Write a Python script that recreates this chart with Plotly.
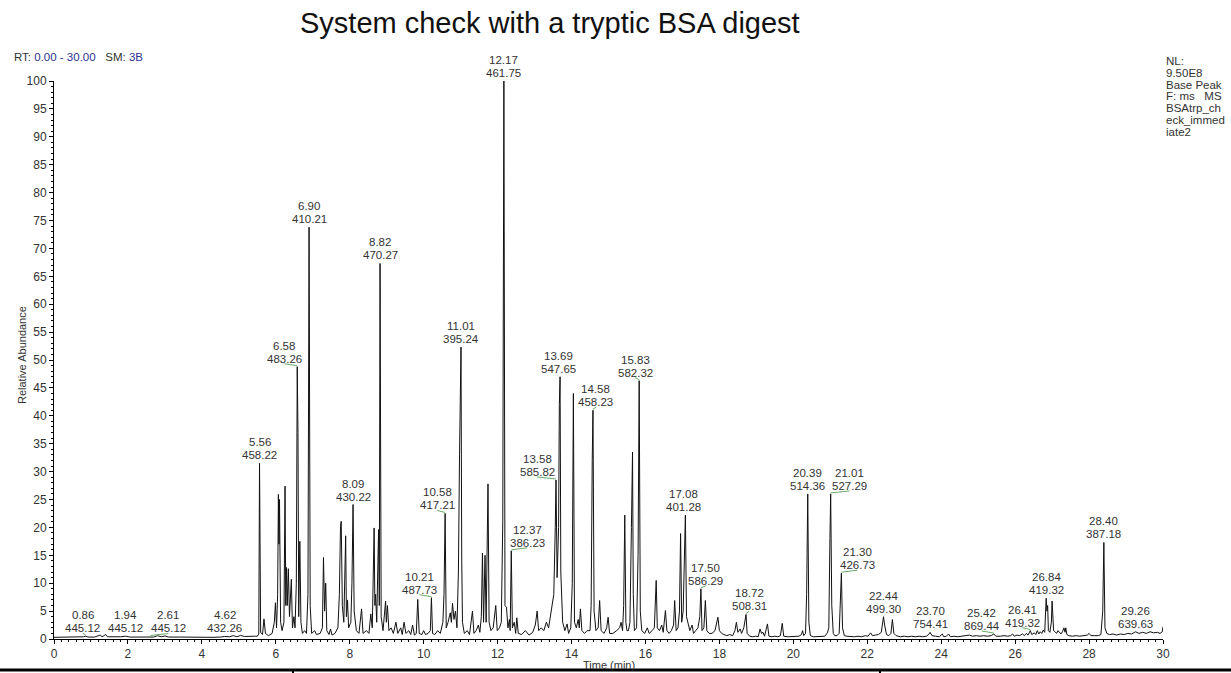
import plotly.graph_objects as go

# ---------------- data ----------------
# retention time (min) / relative abundance (%) vertices, split in windows
rt_a = [0.00, 0.30, 0.60, 0.80, 0.86, 0.92, 1.10, 1.25, 1.30, 1.40, 1.45, 1.60, 1.80, 1.94, 2.05,
        2.30, 2.50, 2.61, 2.70, 2.80, 2.90, 3.00, 3.10, 3.40, 3.70, 4.00, 4.30, 4.50, 4.62, 4.75,
        4.85, 4.95, 5.05, 5.15, 5.30, 5.42]
ab_a = [0.30, 0.30, 0.35, 0.40, 0.50, 0.35, 0.35, 0.70, 0.40, 0.80, 0.40, 0.35, 0.40, 0.50, 0.35,
        0.35, 0.40, 0.45, 0.35, 0.60, 0.40, 0.55, 0.35, 0.35, 0.30, 0.35, 0.30, 0.35, 0.45, 0.40,
        0.60, 0.40, 0.65, 0.45, 0.55, 0.50]

rt_b = [5.50, 5.54, 5.56, 5.59, 5.64, 5.68, 5.72, 5.80, 5.90, 5.96, 5.99, 6.02, 6.05, 6.07, 6.085,
        6.10, 6.13, 6.17, 6.22, 6.25, 6.27, 6.29, 6.31, 6.34, 6.37, 6.42, 6.45, 6.49, 6.52, 6.555,
        6.58, 6.60, 6.62, 6.65, 6.68, 6.72, 6.78, 6.83, 6.87, 6.90, 6.93, 6.97, 7.05, 7.10, 7.20,
        7.26, 7.29, 7.32, 7.35, 7.38, 7.44, 7.48, 7.52, 7.60, 7.68, 7.72, 7.75, 7.77, 7.80, 7.84,
        7.89, 7.91, 7.94, 7.97, 8.03, 8.06, 8.09, 8.12, 8.18, 8.25, 8.32, 8.36, 8.45, 8.52, 8.57,
        8.61, 8.66, 8.68, 8.70, 8.73, 8.78, 8.80, 8.82, 8.85, 8.90, 8.97, 8.99, 9.02, 9.06, 9.12,
        9.18, 9.25, 9.30, 9.38, 9.42, 9.47, 9.52, 9.60, 9.65, 9.70, 9.75, 9.80, 9.84, 9.88, 9.95,
        10.00, 10.05, 10.12, 10.18, 10.21, 10.24]
ab_b = [0.5, 0.9, 31.5, 1.2, 0.8, 3.6, 1.0, 0.6, 1.0, 3.0, 6.5, 2.0, 8.0, 25.9, 17.0,
        25.0, 3.0, 1.5, 3.0, 27.4, 6.0, 12.8, 6.0, 12.6, 4.0, 10.7, 2.0, 4.0, 2.0, 10.0,
        48.8, 37.0, 4.0, 17.5, 3.0, 1.0, 1.5, 1.0, 8.0, 73.8, 6.0, 1.0, 1.5, 0.8, 1.0,
        2.0, 14.6, 5.0, 10.0, 1.5, 0.8, 1.8, 0.7, 1.0, 2.0, 8.0, 20.2, 21.1, 6.0, 3.0,
        18.5, 4.0, 7.0, 2.0, 3.0, 10.0, 24.1, 5.0, 1.5, 1.0, 5.4, 1.0, 1.5, 1.0, 4.5,
        2.0, 19.9, 6.0, 8.0, 3.0, 19.6, 6.0, 67.3, 4.0, 1.5, 6.8, 3.0, 6.0, 1.5, 2.0,
        1.0, 3.0, 1.0, 2.0, 0.8, 3.0, 1.0, 1.5, 0.8, 2.5, 0.7, 1.0, 7.1, 1.0, 0.8,
        1.5, 0.8, 1.0, 1.5, 7.4, 1.0]

rt_c = [10.30, 10.38, 10.45, 10.52, 10.55, 10.58, 10.61, 10.66, 10.72, 10.75, 10.78, 10.82, 10.86, 10.90, 10.94,
        10.97, 10.99, 11.01, 11.03, 11.05, 11.10, 11.18, 11.24, 11.32, 11.36, 11.42, 11.48, 11.52, 11.56, 11.59,
        11.62, 11.66, 11.69, 11.74, 11.77, 11.82, 11.88, 11.95, 11.99, 12.05, 12.10, 12.14, 12.17, 12.20, 12.24,
        12.28, 12.32, 12.34, 12.37, 12.40, 12.45, 12.49, 12.52, 12.56, 12.65, 12.75, 12.85, 12.95, 13.02, 13.07,
        13.11, 13.18, 13.25, 13.32, 13.38, 13.44, 13.48, 13.52, 13.56, 13.58, 13.61, 13.65, 13.67, 13.69, 13.71,
        13.73, 13.76, 13.82, 13.88, 13.92, 13.98, 14.02, 14.05, 14.08, 14.13, 14.18, 14.21, 14.24, 14.28, 14.35,
        14.42, 14.50, 14.53, 14.56, 14.58, 14.61, 14.66, 14.72, 14.76, 14.80, 14.88, 14.95, 14.99, 15.03, 15.12,
        15.22, 15.30, 15.34, 15.38, 15.41, 15.44, 15.47, 15.50, 15.54, 15.58, 15.62, 15.65, 15.67, 15.70, 15.76,
        15.80, 15.83, 15.86, 15.90, 15.98]
ab_c = [0.8, 1.5, 1.0, 3.0, 8.0, 22.5, 2.0, 3.0, 4.7, 3.0, 6.4, 3.5, 5.0, 2.0, 12.0,
        33.0, 44.0, 52.3, 14.0, 3.0, 1.0, 1.5, 0.8, 5.0, 1.0, 1.5, 2.5, 1.2, 4.0, 15.4,
        3.0, 15.0, 3.0, 27.8, 3.0, 1.5, 2.0, 6.0, 1.5, 2.0, 3.0, 21.0, 100.0, 6.0, 5.7,
        2.0, 3.5, 1.5, 15.8, 2.0, 3.0, 1.0, 3.8, 1.0, 0.8, 1.5, 0.7, 1.2, 2.5, 5.0,
        1.5, 2.0, 1.5, 3.0, 2.0, 5.0, 6.7, 8.0, 20.0, 28.5, 11.0, 20.0, 42.0, 47.0, 12.0,
        9.0, 3.0, 1.5, 2.7, 1.0, 2.0, 10.0, 44.0, 3.0, 2.0, 3.5, 2.0, 5.4, 1.5, 1.0,
        1.5, 1.5, 6.0, 32.0, 41.0, 5.0, 1.5, 2.0, 6.9, 1.5, 1.0, 2.0, 3.9, 1.0, 1.0,
        1.5, 2.0, 3.0, 1.5, 6.0, 22.2, 3.0, 1.5, 1.5, 3.0, 20.0, 33.5, 8.0, 1.5, 2.0,
        15.0, 46.3, 5.0, 1.5, 1.0]

rt_d = [16.05, 16.10, 16.18, 16.24, 16.29, 16.32, 16.38, 16.44, 16.48, 16.54, 16.58, 16.64, 16.70, 16.76, 16.79,
        16.83, 16.88, 16.92, 16.95, 16.98, 17.02, 17.05, 17.08, 17.11, 17.15, 17.20, 17.26, 17.30, 17.36, 17.42,
        17.47, 17.50, 17.53, 17.58, 17.62, 17.66, 17.72, 17.80, 17.88, 17.93, 17.96, 18.00, 18.06, 18.12, 18.20,
        18.28, 18.36, 18.42, 18.46, 18.50, 18.56, 18.60, 18.66, 18.72, 18.75, 18.82, 18.90, 18.98, 19.05, 19.10,
        19.14, 19.18, 19.22, 19.30, 19.34, 19.42, 19.50, 19.58, 19.65, 19.70, 19.74, 19.85, 19.95, 20.05, 20.15,
        20.22, 20.25, 20.28, 20.33, 20.36, 20.39, 20.42, 20.46, 20.55, 20.65, 20.75, 20.85, 20.92, 20.96, 20.99,
        21.01, 21.04, 21.08, 21.12, 21.18, 21.24, 21.27, 21.30, 21.33, 21.38, 21.45, 21.55, 21.65, 21.75, 21.85,
        21.95]
ab_d = [2.0, 1.0, 1.5, 2.0, 10.5, 2.0, 1.5, 2.5, 1.2, 5.1, 1.5, 1.0, 1.5, 2.5, 6.9,
        1.5, 2.0, 5.0, 18.9, 3.0, 5.0, 15.0, 22.2, 4.0, 3.0, 1.5, 2.5, 1.0, 1.5, 2.0,
        4.0, 9.0, 1.5, 2.0, 6.9, 1.5, 1.0, 1.0, 1.5, 3.0, 3.9, 1.5, 1.0, 0.8, 0.6,
        0.8, 0.6, 1.5, 3.0, 1.2, 1.8, 1.0, 2.0, 4.4, 1.0, 0.5, 0.4, 0.5, 0.4, 1.8,
        1.0, 1.2, 0.5, 2.7, 0.5, 0.4, 0.5, 0.4, 0.6, 2.8, 0.5, 0.4, 0.4, 0.4, 0.5,
        0.8, 1.5, 0.6, 1.0, 8.0, 26.0, 3.0, 0.6, 0.4, 0.4, 0.4, 0.5, 1.1, 2.0, 18.0,
        26.0, 6.0, 1.0, 0.6, 0.6, 1.0, 6.0, 11.8, 2.0, 0.6, 0.5, 0.4, 0.4, 0.5, 0.4,
        0.6]

rt_e = [22.02, 22.09, 22.14, 22.22, 22.30, 22.38, 22.44, 22.47, 22.52, 22.58, 22.64, 22.68, 22.72, 22.78, 22.90,
        23.00, 23.10, 23.20, 23.30, 23.40, 23.50, 23.60, 23.66, 23.70, 23.75, 23.85, 23.95, 24.03, 24.07, 24.14,
        24.20, 24.25, 24.35, 24.45, 24.55, 24.65, 24.76, 24.85, 24.95, 25.05, 25.15, 25.25, 25.35, 25.42, 25.48,
        25.60, 25.70, 25.80, 25.88, 25.93, 25.98, 26.05, 26.12, 26.20, 26.25, 26.30, 26.35, 26.41, 26.45, 26.52,
        26.56, 26.60, 26.64, 26.68, 26.72, 26.76, 26.80, 26.84, 26.86, 26.88, 26.90, 26.94, 26.98, 27.00, 27.02,
        27.04, 27.08, 27.12, 27.16, 27.20, 27.24, 27.28, 27.32, 27.35, 27.37, 27.40, 27.45, 27.55, 27.65, 27.75,
        27.85, 27.95, 28.00, 28.05, 28.15, 28.25, 28.32, 28.37, 28.40, 28.43, 28.48, 28.55, 28.65, 28.75, 28.85,
        28.95, 29.05, 29.15, 29.26, 29.35, 29.45, 29.55, 29.65, 29.75, 29.85, 29.92, 29.98, 30.00]
ab_e = [0.5, 1.1, 0.6, 0.7, 0.8, 1.2, 4.0, 2.5, 0.8, 0.6, 1.0, 3.5, 1.0, 0.6, 0.4,
        0.5, 0.4, 0.5, 0.4, 0.5, 0.4, 0.5, 0.8, 1.2, 0.6, 0.5, 0.4, 0.9, 0.4, 0.5,
        0.9, 0.4, 0.5, 0.4, 0.5, 0.5, 0.7, 0.5, 0.6, 0.5, 0.6, 0.5, 0.6, 0.9, 0.5,
        0.5, 0.6, 0.5, 0.6, 0.9, 0.5, 0.7, 0.6, 0.9, 0.6, 1.0, 0.7, 1.5, 0.8, 1.1,
        0.8, 1.5, 0.9, 1.3, 1.0, 1.6, 1.2, 7.3, 5.0, 6.0, 1.5, 1.2, 3.0, 6.8, 4.5,
        1.5, 1.3, 1.0, 1.5, 1.2, 0.9, 1.3, 2.0, 1.2, 2.0, 0.8, 0.6, 0.5, 0.6, 0.5,
        0.6, 0.7, 1.0, 0.6, 0.6, 0.6, 0.8, 5.0, 17.3, 2.0, 1.0, 0.8, 0.9, 0.7, 0.9,
        0.8, 1.0, 0.9, 1.3, 1.0, 1.2, 1.0, 1.3, 1.1, 1.2, 1.0, 1.3, 2.2]

# labelled peaks: retention time and base-peak m/z
label_rt = [0.86, 1.94, 2.61, 4.62, 5.56, 6.58, 6.90, 8.09, 8.82, 10.21, 10.58, 11.01, 12.17, 12.37,
            13.58, 13.69, 14.58, 15.83, 17.08, 17.50, 18.72, 20.39, 21.01, 21.30, 22.44, 23.70,
            25.42, 26.41, 26.84, 28.40, 29.26]
label_mz = ["445.12", "445.12", "445.12", "432.26", "458.22", "483.26", "410.21", "430.22", "470.27",
            "487.73", "417.21", "395.24", "461.75", "386.23", "585.82", "547.65", "458.23", "582.32",
            "401.28", "586.29", "508.31", "514.36", "527.29", "426.73", "499.30", "754.41", "869.44",
            "419.32", "419.32", "387.18", "639.63"]

x_ticks = list(range(0, 31, 2))
y_ticks = list(range(0, 101, 5))

# ---------------- layout / style settings ----------------
# horizontal pixel offset of some labels (label placement, not data)
label_shift_px = {0.86: -3, 2.61: 18, 6.58: -13, 10.21: -12, 10.58: -8, 12.37: 16, 13.58: -19,
                  13.69: -2, 14.58: 3, 15.83: -4, 17.08: -2, 17.50: 5, 18.72: 3, 21.01: 19,
                  21.30: 16, 25.42: -12, 26.41: -8}

W, H = 1231, 673
PL, PR, PT, PB = 54, 1163, 81, 639     # plot box in pixels
FONT = "Liberation Sans, Arial, sans-serif"
TXT = "#333333"
BLUE = "#2e3192"
GREEN = "#6aaa6a"

segs = [(rt_a, ab_a), (rt_b, ab_b), (rt_c, ab_c), (rt_d, ab_d), (rt_e, ab_e)]
rt_all, ab_all = [], []
for t, a in segs:
    assert len(t) == len(a), (len(t), len(a))
    rt_all += t
    ab_all += a


def px_x(px):
    return (px - PL) / (PR - PL)


def px_y(py):
    return (PB - py) / (PB - PT)


fig = go.Figure()
fig.add_trace(go.Scatter(x=rt_all, y=ab_all, mode="lines",
                         line=dict(color="#111111", width=1), hoverinfo="skip"))

ann = []
shapes = []
for rt, mz in zip(label_rt, label_mz):
    h = max(a for t, a in zip(rt_all, ab_all) if abs(t - rt) < 0.011)
    dx = label_shift_px.get(rt, 0)
    ann.append(dict(x=rt, y=h, xref="x", yref="y", text=f"{rt:.2f}", showarrow=False,
                    xshift=dx, yshift=21, xanchor="center", yanchor="middle",
                    font=dict(family=FONT, size=11.5, color=TXT)))
    ann.append(dict(x=rt, y=h, xref="x", yref="y", text=mz, showarrow=False,
                    xshift=dx, yshift=8, xanchor="center", yanchor="middle",
                    font=dict(family=FONT, size=11.5, color=TXT)))
    if abs(dx) >= 3:
        shapes.append(dict(type="line", xref="x", yref="y", xsizemode="pixel", ysizemode="pixel",
                           xanchor=rt, yanchor=h, x0=0, x1=dx, y0=1, y1=3,
                           line=dict(color=GREEN, width=1)))

# title and header texts
ann.append(dict(x=px_x(298), y=px_y(23), xref="paper", yref="paper", xanchor="left", yanchor="middle",
                text="System check with a tryptic BSA digest", showarrow=False,
                font=dict(family=FONT, size=29, color="#111111")))
ann.append(dict(x=px_x(12), y=px_y(57), xref="paper", yref="paper", xanchor="left", yanchor="middle",
                text=("RT:\u00a0<span style='color:%s'>0.00 - 30.00</span>\u00a0\u00a0\u00a0SM:\u00a0"
                      "<span style='color:%s'>3B</span>") % (BLUE, BLUE),
                showarrow=False, font=dict(family=FONT, size=11.5, color=TXT)))
nl_lines = ["NL:", "9.50E8", "Base Peak", "F: ms\u00a0\u00a0 MS", "BSAtrp_ch", "eck_immed", "iate2"]
for i, s in enumerate(nl_lines):
    ann.append(dict(x=px_x(1164), y=px_y(61 + 11.75 * i), xref="paper", yref="paper",
                    xanchor="left", yanchor="middle", text=s, showarrow=False,
                    font=dict(family=FONT, size=11.5, color=TXT)))
ann.append(dict(x=px_x(22), y=px_y(355), xref="paper", yref="paper", xanchor="center", yanchor="middle",
                text="Relative Abundance", textangle=-90, showarrow=False,
                font=dict(family=FONT, size=11, color=TXT)))
ann.append(dict(x=px_x(609), y=px_y(665), xref="paper", yref="paper", xanchor="center", yanchor="middle",
                text="Time (min)", showarrow=False, font=dict(family=FONT, size=11, color=TXT)))

# bottom frame line of the page
shapes.append(dict(type="rect", xref="paper", yref="paper", x0=px_x(0), x1=px_x(W),
                   y0=px_y(671.5), y1=px_y(668.5), fillcolor="black", line=dict(width=0), layer="above"))
for vx in (293, 880):
    shapes.append(dict(type="rect", xref="paper", yref="paper", x0=px_x(vx - 1), x1=px_x(vx + 1),
                       y0=px_y(673), y1=px_y(671), fillcolor="black", line=dict(width=0), layer="above"))

axis_common = dict(showline=True, linecolor="black", linewidth=1, ticks="outside", ticklen=4,
                   tickcolor="black", tickwidth=1, showgrid=False, zeroline=False,
                   tickfont=dict(family=FONT, size=12, color=TXT))
fig.update_xaxes(range=[0, 30], tickvals=x_ticks, ticktext=[str(v) for v in x_ticks],
                 minor=dict(dtick=0.2, ticks="outside", ticklen=2, tickcolor="black"), **axis_common)
fig.update_yaxes(range=[0, 100], tickvals=y_ticks, ticktext=[str(v) for v in y_ticks],
                 minor=dict(dtick=1, ticks="outside", ticklen=2, tickcolor="black"), **axis_common)

fig.update_layout(width=W, height=H, margin=dict(l=PL, r=W - PR, t=PT, b=H - PB, pad=0),
                  plot_bgcolor="white", paper_bgcolor="white", showlegend=False,
                  annotations=ann, shapes=shapes, font=dict(family=FONT, color=TXT))

fig.write_html("out.html")
